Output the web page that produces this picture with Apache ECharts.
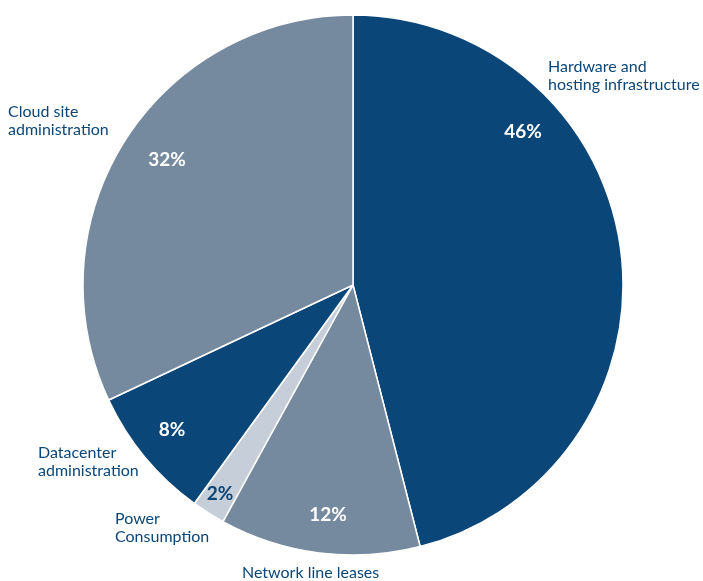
<!DOCTYPE html>
<html><head><meta charset="utf-8">
<script src="https://cdn.jsdelivr.net/npm/echarts@6/dist/echarts.min.js"></script>
<style>html,body{margin:0;padding:0;background:#fff}#c{width:703px;height:581px}</style>
</head><body><div id="c"></div>
<script>
const categories = ["Hardware and\nhosting infrastructure", "Network line leases", "Power\nConsumption", "Datacenter\nadministration", "Cloud site\nadministration"];
const values = [46, 12, 2, 8, 32];

const colors = ["#0b4679", "#75899f", "#c6cfd9", "#0b4679", "#75899f"];
const pctColors = ["#fff", "#fff", "#0b4679", "#fff", "#fff"];
const pctPos = [[523,132],[328,515],[220,494],[172,430],[167,160]];
const namePos = [[548,76],[242,573],[115,528],[38,462],[8,121]];

const chart = echarts.init(document.getElementById('c'));
const data = categories.map((n,i)=>({name:n, value:values[i], itemStyle:{color:colors[i]}, label:{color:pctColors[i]}}));
const data2 = categories.map((n,i)=>({name:n, value:values[i]}));
chart.setOption({
  animation:false,
  series:[
    {type:'pie', center:[353,285], radius:270, startAngle:90, clockwise:true,
     itemStyle:{borderColor:'#fff', borderWidth:1.5},
     label:{show:true, position:'inside', formatter:p=>p.value+'%', fontFamily:'Lato', fontSize:19, fontWeight:'bold'},
     labelLine:{show:false},
     labelLayout:p=>({x:pctPos[p.dataIndex][0], y:pctPos[p.dataIndex][1], align:'center', verticalAlign:'middle'}),
     emphasis:{disabled:true},
     data:data},
    {type:'pie', center:[353,285], radius:270, startAngle:90, clockwise:true, silent:true, z:1,
     itemStyle:{color:'rgba(0,0,0,0)', borderWidth:0},
     label:{show:true, position:'outside', formatter:'{b}', color:'#0b4679', fontFamily:'Lato', fontSize:16, lineHeight:18, align:'left', overflow:'none', width:300},
     labelLine:{show:false},
     labelLayout:p=>({x:namePos[p.dataIndex][0], y:namePos[p.dataIndex][1], align:'left', verticalAlign:'middle', width:300}),
     emphasis:{disabled:true},
     data:data2}
  ]
});
</script></body></html>
